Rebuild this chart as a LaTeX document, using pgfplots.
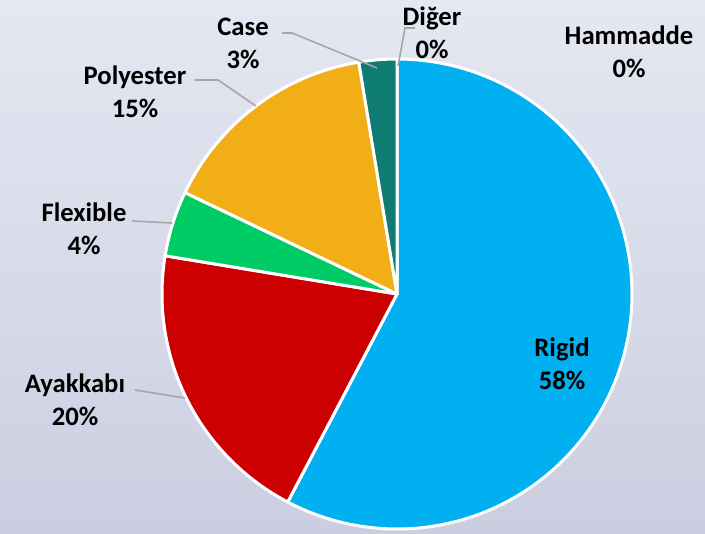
\documentclass[border=0pt]{standalone}
\usepackage{pgfplots}
\pgfplotsset{compat=1.18}
\usepackage{fontspec}
\setmainfont{Carlito}
\definecolor{cRigid}{HTML}{00B0F0}
\definecolor{cAyak}{HTML}{CC0000}
\definecolor{cFlex}{HTML}{00CC66}
\definecolor{cPoly}{HTML}{F2AE16}
\definecolor{cCase}{HTML}{0E7C72}
\definecolor{bgTop}{HTML}{E5E8F2}
\definecolor{bgBot}{HTML}{CACEE0}
\definecolor{lead}{HTML}{A6A6A6}
% slice values (percent), clockwise from top
\def\vRigid{57.7}
\def\vAyak{19.9}
\def\vFlex{4.5}
\def\vPoly{15.3}
\def\vCase{2.6}
\def\vDiger{0}
\def\vHam{0}
\def\cx{397}
\def\cy{294}
\def\R{235}
\tikzset{lbl/.style={font=\bfseries\fontsize{20}{24.75}\selectfont, align=center, inner sep=0pt, text=black}}
\begin{document}
\begin{tikzpicture}
\pgfmathsetmacro{\aA}{90}
\pgfmathsetmacro{\aB}{\aA-3.6*\vRigid}
\pgfmathsetmacro{\aC}{\aB-3.6*\vAyak}
\pgfmathsetmacro{\aD}{\aC-3.6*\vFlex}
\pgfmathsetmacro{\aE}{\aD-3.6*\vPoly}
\pgfmathsetmacro{\aF}{\aE-3.6*\vCase}
\begin{axis}[
  width=528.75pt, height=399.75pt, scale only axis,
  xmin=0, xmax=705, ymin=0, ymax=533, y dir=reverse,
  axis lines=none, clip=false,
  axis background/.style={shade, top color=bgTop, bottom color=bgBot},
]
\addplot[fill=cRigid, draw=white, line width=2.25pt, line join=round, domain=\aB:\aA, samples=120, variable=\t]
  ({\cx+\R*cos(\t)},{\cy-\R*sin(\t)}) -- (axis cs:\cx,\cy) -- cycle;
\addplot[fill=cAyak, draw=white, line width=2.25pt, line join=round, domain=\aC:\aB, samples=60, variable=\t]
  ({\cx+\R*cos(\t)},{\cy-\R*sin(\t)}) -- (axis cs:\cx,\cy) -- cycle;
\addplot[fill=cFlex, draw=white, line width=2.25pt, line join=round, domain=\aD:\aC, samples=20, variable=\t]
  ({\cx+\R*cos(\t)},{\cy-\R*sin(\t)}) -- (axis cs:\cx,\cy) -- cycle;
\addplot[fill=cPoly, draw=white, line width=2.25pt, line join=round, domain=\aE:\aD, samples=50, variable=\t]
  ({\cx+\R*cos(\t)},{\cy-\R*sin(\t)}) -- (axis cs:\cx,\cy) -- cycle;
\addplot[fill=cCase, draw=white, line width=2.25pt, line join=round, domain=\aF:\aE, samples=15, variable=\t]
  ({\cx+\R*cos(\t)},{\cy-\R*sin(\t)}) -- (axis cs:\cx,\cy) -- cycle;
% leader lines
\draw[lead, line width=1.2pt] (axis cs:282,33) -- (axis cs:292,33) -- (axis cs:377,68);
\draw[lead, line width=1.2pt] (axis cs:415,28) -- (axis cs:405,28) -- (axis cs:398,66);
\draw[lead, line width=1.2pt] (axis cs:195,80) -- (axis cs:218,80) -- (axis cs:256,106);
\draw[lead, line width=1.2pt] (axis cs:132,221) -- (axis cs:172,223);
\draw[lead, line width=1.2pt] (axis cs:135,390) -- (axis cs:185,398);
% labels
\node[lbl] at (axis cs:243,43) {Case\\3\%};
\node[lbl] at (axis cs:432,33) {Diğer\\0\%};
\node[lbl] at (axis cs:629,52) {Hammadde\\0\%};
\node[lbl] at (axis cs:135,92) {Polyester\\15\%};
\node[lbl] at (axis cs:84,229) {Flexible\\4\%};
\node[lbl] at (axis cs:75,400) {Ayakkabı\\20\%};
\node[lbl] at (axis cs:562,364) {Rigid\\58\%};
\end{axis}
\end{tikzpicture}
\end{document}
